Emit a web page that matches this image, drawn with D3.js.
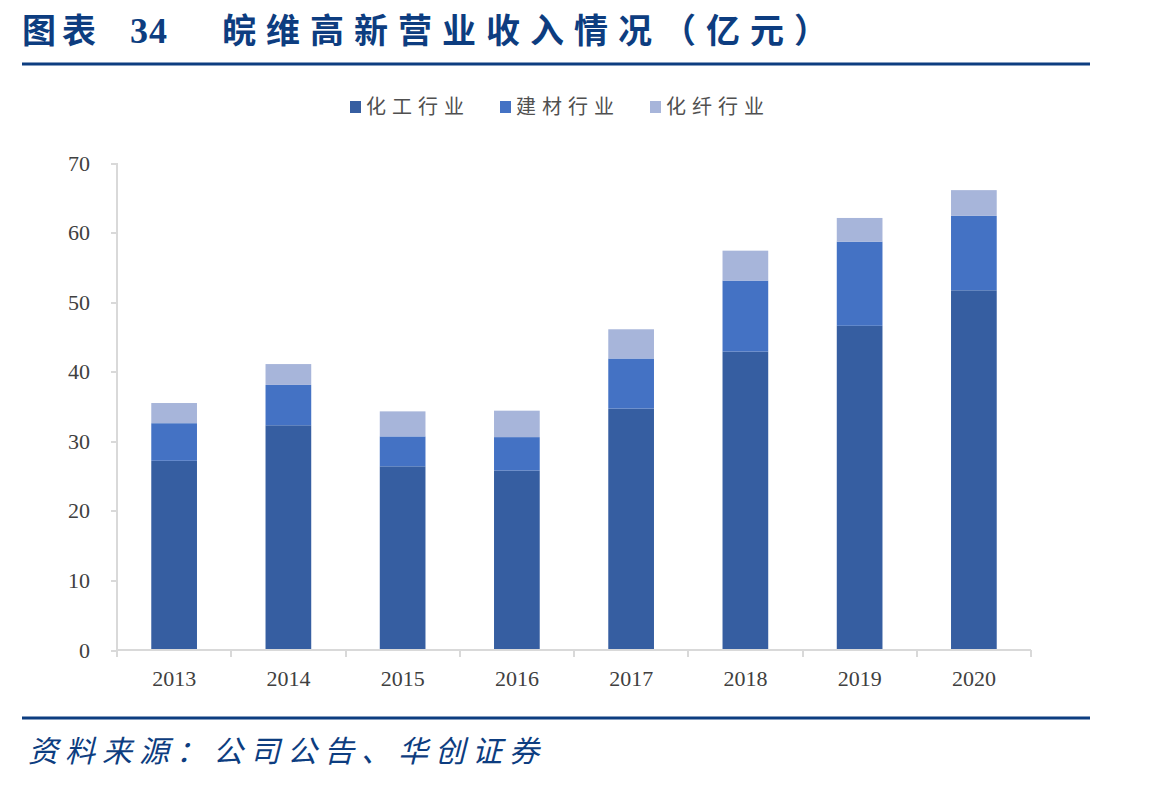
<!DOCTYPE html>
<html>
<head>
<meta charset="utf-8">
<title>皖维高新营业收入情况</title>
<script src="https://cdn.jsdelivr.net/npm/d3@7"></script>
<style>
    body { margin: 0; background: #fff; }
    .axis path, .axis line { stroke: #d9d9d9; stroke-width: 2; shape-rendering: crispEdges; }
    .axis text { font-family: "Liberation Serif", serif; font-size: 22px; fill: #404040; }
</style>
</head>
<body>
<div id="chart"></div>
<script>
    // data (亿元)
    var years = ["2013", "2014", "2015", "2016", "2017", "2018", "2019", "2020"];
    var chemical = [27.2, 32.3, 26.4, 25.8, 34.7, 42.9, 46.6, 51.7];
    var building = [5.4, 5.8, 4.3, 4.8, 7.2, 10.2, 12.1, 10.7];
    var fiber = [2.9, 3.0, 3.6, 3.8, 4.2, 4.3, 3.4, 3.7];
    var seriesNames = ["化工行业", "建材行业", "化纤行业"];
    var colors = ["#365ea1", "#4472c4", "#a7b5da"];
    var yTicks = [0, 10, 20, 30, 40, 50, 60, 70];

    var w = 1149, h = 785;
    var navy = "#0d3d80";

    var svg = d3.select("#chart").append("svg")
        .attr("width", w)
        .attr("height", h);

    // title
    var title = svg.append("text")
        .attr("x", 22)
        .attr("y", 43)
        .attr("fill", navy)
        .attr("font-size", "34px")
        .attr("font-weight", "bold")
        .attr("letter-spacing", "6px")
        .attr("font-family", "'Noto Sans CJK SC', sans-serif");
    title.append("tspan").text("图表");
    title.append("tspan").attr("x", 130).attr("font-family", "'Liberation Serif', serif").attr("font-size", "36px").attr("letter-spacing", "1px").text("34");
    title.append("tspan").attr("x", 222).attr("letter-spacing", "10px").text("皖维高新营业收入情况（亿元）");

    svg.append("line")
        .attr("x1", 22).attr("x2", 1090)
        .attr("y1", 64).attr("y2", 64)
        .attr("stroke", navy).attr("stroke-width", 3);

    // legend
    var legendX = [350, 500, 650];
    var legend = svg.selectAll(".legend")
        .data(seriesNames)
        .enter()
        .append("g")
        .attr("class", "legend")
        .attr("transform", function (d, i) { return "translate(" + legendX[i] + ",107)"; });
    legend.append("rect")
        .attr("x", 0).attr("y", -6)
        .attr("width", 11).attr("height", 12)
        .attr("fill", function (d, i) { return colors[i]; });
    legend.append("text")
        .attr("x", 16).attr("y", 7)
        .attr("font-family", "'Noto Sans CJK SC', sans-serif")
        .attr("font-size", "20px")
        .attr("letter-spacing", "6px")
        .attr("fill", "#505050")
        .text(function (d) { return d; });

    // scales
    var xScale = d3.scaleBand()
        .domain(years)
        .range([117, 1031])
        .paddingInner(0.6)
        .paddingOuter(0.3);

    var yScale = d3.scaleLinear()
        .domain([0, 70])
        .range([650, 163]);

    // stacked data
    var table = years.map(function (y, i) {
        return { year: y, chem: chemical[i], build: building[i], fiber: fiber[i] };
    });
    var stack = d3.stack().keys(["chem", "build", "fiber"]);
    var layers = stack(table);

    svg.selectAll(".layer")
        .data(layers)
        .enter()
        .append("g")
        .attr("class", "layer")
        .attr("fill", function (d, i) { return colors[i]; })
        .selectAll("rect")
        .data(function (d) { return d; })
        .enter()
        .append("rect")
        .attr("x", function (d) { return xScale(d.data.year); })
        .attr("width", xScale.bandwidth())
        .attr("y", function (d) { return yScale(d[1]); })
        .attr("height", function (d) { return yScale(d[0]) - yScale(d[1]); });

    // axes
    var yAxis = d3.axisLeft(yScale)
        .tickValues(yTicks)
        .tickSize(6)
        .tickPadding(21);
    svg.append("g")
        .attr("class", "y axis")
        .attr("transform", "translate(117,0)")
        .call(yAxis)
        .call(function (g) { g.select(".domain").attr("d", "M0,163V650"); });

    var xAxis = d3.axisBottom(xScale).tickSize(0).tickPadding(20);
    var gx = svg.append("g")
        .attr("class", "x axis")
        .attr("transform", "translate(0,650)")
        .call(xAxis);
    gx.select(".domain").attr("d", "M117,0H1031");
    // boundary ticks between categories
    var step = xScale.step();
    gx.selectAll(".sep")
        .data(d3.range(years.length + 1))
        .enter()
        .append("line")
        .attr("x1", function (d) { return 117 + d * step; })
        .attr("x2", function (d) { return 117 + d * step; })
        .attr("y1", 0).attr("y2", 7);

    // footer
    svg.append("line")
        .attr("x1", 22).attr("x2", 1090)
        .attr("y1", 718).attr("y2", 718)
        .attr("stroke", navy).attr("stroke-width", 3);

    svg.append("text")
        .attr("x", 28)
        .attr("y", 762)
        .attr("fill", navy)
        .attr("font-size", "30px")
        .attr("font-style", "italic")
        .attr("letter-spacing", "7px")
        .attr("font-family", "'Noto Sans CJK SC', sans-serif")
        .text("资料来源：公司公告、华创证券");
</script>
</body>
</html>
